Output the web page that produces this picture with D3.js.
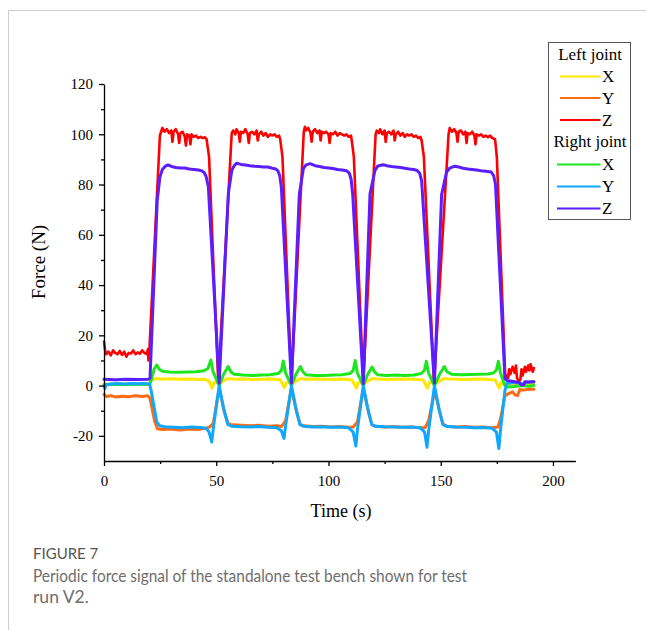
<!DOCTYPE html>
<html><head><meta charset="utf-8">
<script src="https://cdn.jsdelivr.net/npm/d3@7"></script>
<style>body{margin:0;background:#fff}</style>
</head><body>
<svg id="c" width="646" height="630"></svg>
<script>
// ---- data (time s, force N) ----
const xTicks = [0, 50, 100, 150, 200];
const xMinor = [25, 75, 125, 175];
const yTicks = [-20, 0, 20, 40, 60, 80, 100, 120];
const yMinor = [-10, 10, 30, 50, 70, 90, 110];
const groupNames = ["Left joint", "Right joint"];
const axisNames = ["X", "Y", "Z"];

const leftX = [[0,0.6],[4,0.5],[8,0.7],[12,0.5],[16,0.6],[20.3,0.6],[21,2.2],[23,2.8],[26,2.5],[30,2.7],[34,2.5],[38,2.6],[42,2.4],[45,2.5],[46.8,1.8],[48.2,-1],[49,1.2],[50,1.4],[51.3,0.5],[53,1.8],[55,2.8],[58,2.5],[62,2.6],[66,2.4],[70,2.5],[74,2.6],[78.5,2.3],[80.4,-0.8],[81.2,1.2],[82,1.4],[83.5,0.5],[85.5,1.8],[87.5,2.8],[90,2.5],[94,2.6],[98,2.5],[102,2.4],[106,2.6],[110.5,2.2],[112.4,-1],[113.2,1.2],[114,1.4],[115.5,0.5],[117.5,1.8],[119.5,2.8],[122,2.6],[126,2.4],[130,2.5],[134,2.6],[138,2.5],[142.2,2.2],[144.1,-1],[144.9,1.2],[145.8,1.4],[147.3,0.5],[149.5,1.8],[151.5,2.8],[154,2.6],[158,2.5],[162,2.4],[166,2.6],[170,2.5],[174.2,2.2],[176.1,-1],[176.9,1.2],[177.8,0.8],[178.6,0.3],[182,0.6],[186,0.4],[191.5,0.6]];

const leftY = [[0,-3.5],[1,-4.3],[3,-4],[5,-4.5],[8,-4.2],[11,-4.4],[14,-4],[17,-4.3],[19.5,-4],[20.5,-5],[22.5,-14],[23.8,-17.2],[26,-17.5],[30,-17.3],[34,-17.7],[38,-17.3],[42,-17.5],[45,-17],[47,-16.5],[48.7,-15],[51.3,-1.2],[53.5,-10],[55.2,-15],[57,-15.6],[61,-15.8],[65,-16],[69,-15.8],[73,-16.2],[77,-16],[79,-16.3],[80.9,-14],[83.5,-1],[85.7,-10],[87.3,-15.3],[89,-16],[93,-16.3],[97,-16.2],[101,-16.5],[105,-16.3],[109,-16.6],[111,-16.5],[112.9,-14.5],[115.5,-1.2],[117.7,-10],[119.3,-15.5],[121,-16.2],[125,-16.5],[129,-16.3],[133,-16.6],[137,-16.5],[141,-16.8],[143,-16.8],[144.6,-14],[147.4,-2],[149.4,-10],[151,-15.3],[153,-16.3],[157,-16.5],[161,-16.3],[165,-16.6],[169,-16.5],[173,-16.8],[175.5,-16.5],[176.7,-13],[178.6,-4],[180,-3.3],[182,-2.5],[183.2,-3.8],[184.2,-4],[185.3,-1.5],[187,-1.8],[189,-1.4],[191.5,-1.5]];

const leftZ = [[0,17.5],[0.5,14],[1,12.5],[2,13.5],[3,12],[4,14],[5,13],[6,12.5],[7,13.8],[8,12.2],[9,13.5],[10,11.5],[11,13],[12,12.8],[13,14],[14,12.5],[15,13.2],[16,12.7],[17,14],[18,13],[19,12.5],[19.6,14.5],[19.8,10],[20.1,12],[24.9,99.5],[26,102.5],[27,101],[28,102],[29,100.5],[30,101.5],[30.5,97],[31,101],[32,102],[33,100],[33.5,96.5],[34,100.5],[35,101],[36,99],[36.5,95.5],[37,100],[38,99.5],[38.5,96],[39,100],[40,99],[41,99.5],[42,98.5],[43,99],[44,98.5],[45,98.8],[45.7,98],[46.8,91],[50.9,1.5],[56.9,100.5],[57.5,101.5],[58.5,100],[59,102],[60,100.5],[60.5,97],[61,101],[62,100.5],[63,102],[64,100],[64.5,96.5],[65,100.5],[66,101],[67,100],[68,101.5],[68.5,97.5],[69,100],[70,101],[71,99.5],[72,100.5],[73,99],[74,100],[75,99.5],[76,100],[77,99],[78,99.5],[78.5,98],[79.5,91],[83.5,1],[89,101],[89.5,103],[90,101.5],[91,102.5],[92,100.5],[92.5,97],[93,101],[94,102],[95,100.5],[96,101.5],[96.5,97.5],[97,101],[98,100.5],[99,101],[100,100],[100.5,96.5],[101,100.5],[102,100],[103,101],[104,99.5],[105,100.5],[106,100],[107,99.5],[108,100],[109,99],[110,99.5],[110.3,98],[111.3,91],[115.5,1],[121,100],[121.5,101.5],[122.5,100.5],[123,102],[124,100],[125,101.5],[125.5,97],[126,100.5],[127,101],[128,100],[129,101.5],[129.5,97.5],[130,100],[131,101],[132,99.5],[133,100.5],[134,99],[135,100],[136,99.5],[137,100],[138,99],[139,99.5],[140,98.5],[141,99],[141.5,97.5],[142.5,91],[147,1],[153.5,100],[154,102.5],[155,101],[156,102],[157,100.5],[157.5,97],[158,101],[159,101.5],[160,100],[161,101],[161.5,96.5],[162,100.5],[163,100],[164,101],[165,99.5],[165.5,96],[166,100],[167,99.5],[168,100],[169,99],[170,99.5],[171,98.8],[172,99.5],[173,98.5],[174.2,98],[175,91],[178.8,2.5],[179.5,4],[180,3],[180.5,6.5],[181,4.5],[182,7.5],[183,5],[183.5,8],[184,3],[184.8,1.5],[185.5,2.5],[186,6.5],[186.5,4],[187.5,7.5],[188,5.5],[189,8],[189.5,6],[190,8.5],[191,5.5],[191.5,7]];

const rightX = [[0,0.3],[5,0.5],[10,0.4],[15,0.5],[20.3,0.5],[21,2],[22.3,6.5],[23.5,8.2],[24.6,6.5],[26,5.7],[29,5.4],[33,5.3],[37,5.4],[41,5.5],[44.5,5.9],[46.3,6.8],[47.6,10.2],[48.6,5.5],[51.3,0],[53.3,4.5],[55.3,7.6],[56.5,5.5],[58,4.5],[62,4.2],[66,4],[70,4.2],[74,4.3],[77.5,4.8],[79,6],[79.9,9.8],[80.9,5],[83.5,0],[85.5,4.5],[87.5,7.6],[88.6,5.5],[90,4.3],[94,4],[98,4],[102,4.2],[106,4.3],[109.5,4.8],[111,6],[111.9,10],[112.9,5],[115.5,0],[117.5,4.5],[119.4,7.4],[120.5,5.5],[122,4.3],[126,4],[130,4.2],[134,4],[138,4.2],[141.3,4.8],[142.7,6],[143.6,9.7],[144.6,5],[147.2,0],[149.5,4.5],[151.6,7.6],[152.8,5.5],[155,4.5],[159,4.3],[163,4.4],[167,4.5],[171,4.6],[173.5,5],[174.8,6.2],[175.7,9.7],[176.6,5],[178.6,0],[180,-0.6],[183,-0.4],[186,0],[189,-0.3],[191.5,0]];

const rightY = [[0,0],[0.4,-1.2],[1,0.3],[3,0.6],[6,0.8],[9,0.6],[12,0.8],[15,0.7],[18,0.8],[20.3,0.6],[21,-2],[23.5,-14.5],[24.8,-16],[27,-16.4],[31,-16.6],[35,-16.8],[39,-16.5],[43,-16.7],[45.5,-17],[46.8,-18.5],[48,-22.5],[48.7,-17],[51.3,0],[53.5,-10],[55.2,-15.5],[57,-16.2],[61,-16.4],[65,-16.5],[69,-16.3],[73,-16.6],[77,-16.8],[79,-18],[80.2,-21],[80.9,-16],[83.5,0],[85.7,-10],[87.3,-15.5],[89,-16.2],[93,-16.5],[97,-16.4],[101,-16.6],[105,-16.5],[109,-16.8],[111,-18.5],[112.2,-24],[112.9,-17.5],[115.5,0],[117.7,-10],[119.3,-15.5],[121,-16.2],[125,-16.4],[129,-16.5],[133,-16.6],[137,-16.5],[141,-16.9],[142.8,-18.5],[143.9,-24.5],[144.6,-18],[147.2,0],[149.4,-10],[151,-15.5],[153,-16.3],[157,-16.5],[161,-16.6],[165,-16.8],[169,-16.7],[173,-17],[174.8,-18.5],[175.9,-25],[176.7,-17],[178.6,-2],[179.5,0.8],[182,1.2],[185,1],[186,0.6],[188,1.3],[191.5,1.5]];

const rightZ = [[0,2.5],[5,2.3],[10,2.5],[15,2.4],[19.8,2.5],[20.5,3],[23.7,73.5],[24.9,83],[26,86],[27.2,87.2],[28.5,87.8],[30,87.2],[32,86.8],[34,86.6],[36,86.6],[38,86.2],[40,86],[42,85.8],[43.5,85.5],[44.6,84.8],[45.5,83.2],[46.5,79],[51.3,1],[55.4,76.5],[56.9,85.5],[58,87.5],[59.1,88.5],[61,88],[63,87.8],[65,87.5],[67,87.3],[69,87.2],[71,87],[73,87],[75,86.5],[76.5,86.2],[77.5,85.4],[78.3,83.5],[79,79],[83.5,1],[87,76],[88.8,86.3],[90,87.8],[91.8,88.3],[94,87.5],[96,87.2],[98,86.8],[100,86.6],[102,86.4],[104,86],[106,85.8],[108,85.5],[109.3,84.5],[110.1,82],[110.8,76],[115.5,0.8],[118.5,76.3],[120.7,85.6],[122,87.4],[124.4,87.9],[126,87.5],[128,87.2],[130,87],[132,86.8],[134,86.5],[136,86.2],[138,86],[139.5,85.6],[140.6,84.5],[141.5,81.5],[147.2,1],[150.4,76],[152.6,85],[154,86.5],[156.3,87.3],[158,87],[160,86.5],[162,86.2],[164,86],[166,85.8],[168,85.5],[170,85.3],[172.5,85],[173.6,83.5],[174.4,80],[178.6,3],[179.5,2],[181,1.8],[183,1.5],[185,1.2],[186,0.2],[187,0.3],[187.5,1.5],[189,1.4],[191.5,1.5]];

const seriesData = [leftX, leftY, leftZ, rightX, rightY, rightZ];
const seriesColors = ["#ffe600", "#ff6a13", "#ff0000", "#1ee61e", "#10a8ff", "#5a1eff"];

// ---- chart ----
const svg = d3.select("#c");
const serif = "'Liberation Serif','Times New Roman',serif";

// card frame
svg.append("path").attr("d", "M8.5,630 V10.5 H646").attr("fill", "none").attr("stroke", "#cfcfcf").attr("stroke-width", 1);

const x = d3.scaleLinear().domain([0, 210]).range([104, 575.4]);
const y = d3.scaleLinear().domain([-30, 120]).range([461, 84]);

const line = d3.line().x(d => x(d[0])).y(d => y(d[1]));
const plot = svg.append("g");
seriesData.forEach((s, i) => {
  plot.append("path").datum(s).attr("d", line).attr("fill", "none")
    .attr("stroke", seriesColors[i]).attr("stroke-width", i === 2 ? 2.6 : 3)
    .attr("stroke-linejoin", "round").attr("stroke-linecap", "round");
});

const fmt = d => String(d);
function styleAxis(g) {
  g.selectAll("path,line").attr("stroke", "#000").attr("stroke-width", 1.3);
  g.selectAll("text").attr("font-family", serif).attr("font-size", 15).attr("fill", "#000");
}
const xAxis = svg.append("g").attr("transform", `translate(0,${y(-30)})`)
  .call(d3.axisBottom(x).tickValues(xTicks).tickSize(5).tickSizeOuter(0).tickPadding(9).tickFormat(fmt));
styleAxis(xAxis);
const xMin = svg.append("g").attr("transform", `translate(0,${y(-30)})`)
  .call(d3.axisBottom(x).tickValues(xMinor).tickSize(3).tickSizeOuter(0).tickFormat(""));
styleAxis(xMin); xMin.select(".domain").remove();

const yAxis = svg.append("g").attr("transform", `translate(${x(0)},0)`)
  .call(d3.axisLeft(y).tickValues(yTicks).tickSize(5).tickSizeOuter(0).tickPadding(6).tickFormat(fmt));
styleAxis(yAxis);
const yMin = svg.append("g").attr("transform", `translate(${x(0)},0)`)
  .call(d3.axisLeft(y).tickValues(yMinor).tickSize(3).tickSizeOuter(0).tickFormat(""));
styleAxis(yMin); yMin.select(".domain").remove();

svg.append("text").attr("x", 341).attr("y", 517).attr("text-anchor", "middle")
  .attr("font-family", serif).attr("font-size", 18).text("Time (s)");
svg.append("text").attr("transform", "translate(45,262) rotate(-90)").attr("text-anchor", "middle")
  .attr("font-family", serif).attr("font-size", 19).text("Force (N)");

// legend
const lg = svg.append("g");
lg.append("rect").attr("x", 548.5).attr("y", 42.5).attr("width", 82).attr("height", 177)
  .attr("fill", "#fff").attr("stroke", "#555").attr("stroke-width", 1);
const headY = [60, 147];
const rowY = [[76.5, 98, 120], [164.5, 186.5, 208.5]];
groupNames.forEach((gname, gi) => {
  lg.append("text").attr("x", 590).attr("y", headY[gi]).attr("text-anchor", "middle")
    .attr("font-family", serif).attr("font-size", 17).text(gname);
  axisNames.forEach((a, ai) => {
    const yy = rowY[gi][ai];
    lg.append("line").attr("x1", gi ? 557 : 560).attr("x2", 600.5).attr("y1", yy).attr("y2", yy)
      .attr("stroke", seriesColors[gi * 3 + ai]).attr("stroke-width", 2.2);
    lg.append("text").attr("x", 602).attr("y", yy + 5.5)
      .attr("font-family", serif).attr("font-size", 17).text(a);
  });
});

// caption
const cap = "'Lato','Open Sans',sans-serif";
svg.append("text").attr("x", 33).attr("y", 559).attr("font-family", cap).attr("font-size", 15)
  .attr("fill", "#555").text("FIGURE 7");
svg.append("text").attr("x", 33).attr("y", 582).attr("font-family", cap).attr("font-size", 17.5)
  .attr("fill", "#6e6e6e").attr("textLength", 434).attr("lengthAdjust", "spacingAndGlyphs")
  .text("Periodic force signal of the standalone test bench shown for test");
svg.append("text").attr("x", 33).attr("y", 603).attr("font-family", cap).attr("font-size", 17.5)
  .attr("fill", "#6e6e6e").text("run V2.");
</script>
</body></html>
